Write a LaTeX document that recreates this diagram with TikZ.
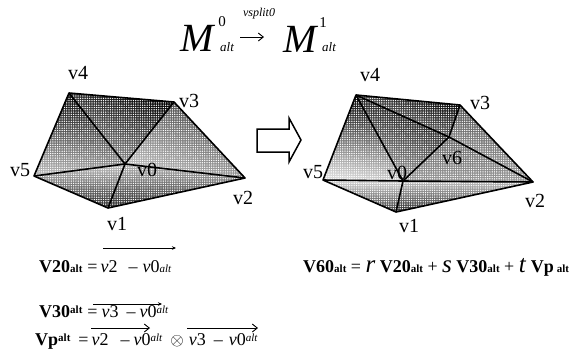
\documentclass[tikz,border=0pt]{standalone}
\usepackage{fontspec}
\setmainfont{Liberation Serif}
\usetikzlibrary{patterns,arrows.meta}
\pgfdeclarepatternformonly{halftone}{\pgfqpoint{-1pt}{-1pt}}{\pgfqpoint{1pt}{1pt}}{\pgfqpoint{2.3pt}{2.3pt}}{%
  \pgfpathcircle{\pgfqpoint{0pt}{0pt}}{0.72pt}\pgfusepath{fill}}
\newcommand{\bsub}[1]{{\fontsize{11}{11}\selectfont\textbf{#1}}}
\newcommand{\isub}[1]{{\fontsize{11}{11}\selectfont\textit{#1}}}
\newcommand{\muka}[4]{\shade[top color=black!#3,bottom color=black!#4,shading angle=#2] #1 -- cycle;
  \fill[pattern=halftone,pattern color=white] #1 -- cycle;}
\tikzset{
  meshedge/.style={line width=1.6pt,line join=round},
  vlabel/.style={font=\fontsize{20}{20}\selectfont,inner sep=0pt},
  eqn/.style={font=\fontsize{18}{18}\selectfont,inner sep=0pt,anchor=base west},
  vecbar/.style={-{Stealth[length=4pt,width=3.5pt]},line width=0.9pt},
  vecopen/.style={-{Straight Barb[length=5pt,width=8pt]},line width=0.9pt}
}

\begin{document}
\begin{tikzpicture}[x=1pt,y=-1pt]
  \useasboundingbox (0,0) rectangle (586,349);
  % left mesh
  \coordinate (v0) at (125,164);
  \coordinate (v1) at (108,208);
  \coordinate (v2) at (245,178);
  \coordinate (v3) at (174,102);
  \coordinate (v4) at (69,93);
  \coordinate (v5) at (34,176);
  % right mesh
  \coordinate (w0) at (403,181);
  \coordinate (w1) at (396,212);
  \coordinate (w2) at (533,182);
  \coordinate (w3) at (460,105);
  \coordinate (w4) at (356,95);
  \coordinate (w5) at (323,180);
  \coordinate (w6) at (449,137);

  \muka{(v4) -- (v3) -- (v0)}{-20}{100}{40}
  \muka{(v4) -- (v0) -- (v5)}{-10}{100}{30}
  \muka{(v3) -- (v2) -- (v0)}{-20}{75}{25}
  \muka{(v5) -- (v0) -- (v1)}{0}{25}{85}
  \muka{(v0) -- (v2) -- (v1)}{0}{30}{85}

  \muka{(w4) -- (w3) -- (w6)}{-20}{100}{40}
  \muka{(w4) -- (w6) -- (w0)}{-20}{100}{35}
  \muka{(w4) -- (w0) -- (w5)}{-10}{100}{15}
  \muka{(w3) -- (w2) -- (w6)}{-20}{75}{30}
  \muka{(w6) -- (w2) -- (w0)}{0}{60}{40}
  \muka{(w5) -- (w0) -- (w1)}{0}{15}{80}
  \muka{(w0) -- (w2) -- (w1)}{0}{25}{85}

  \draw[meshedge] (v4) -- (v3) -- (v2) -- (v1) -- (v5) -- cycle;
  \draw[meshedge] (v0) -- (v1);
  \draw[meshedge] (v0) -- (v2);
  \draw[meshedge] (v0) -- (v3);
  \draw[meshedge] (v0) -- (v4);
  \draw[meshedge] (v0) -- (v5);

  \draw[meshedge] (w4) -- (w3) -- (w2) -- (w1) -- (w5) -- cycle;
  \draw[meshedge] (w0) -- (w1);
  \draw[meshedge] (w0) -- (w2);
  \draw[meshedge] (w0) -- (w4);
  \draw[meshedge] (w0) -- (w5);
  \draw[meshedge] (w0) -- (w6);
  \draw[meshedge] (w6) -- (w2);
  \draw[meshedge] (w6) -- (w3);
  \draw[meshedge] (w6) -- (w4);

  \node[vlabel] (lv0) at (147,170) {v0};
  \node[vlabel] (lv1) at (117,224) {v1};
  \node[vlabel] (lv2) at (243,198) {v2};
  \node[vlabel] (lv3) at (189,101) {v3};
  \node[vlabel] (lv4) at (78,73) {v4};
  \node[vlabel] (lv5) at (20,170) {v5};

  \node[vlabel] (lw0) at (397,173) {v0};
  \node[vlabel] (lw1) at (409,226) {v1};
  \node[vlabel] (lw2) at (535,201) {v2};
  \node[vlabel] (lw3) at (480,103) {v3};
  \node[vlabel] (lw4) at (370,75) {v4};
  \node[vlabel] (lw5) at (313,172) {v5};
  \node[vlabel] (lw6) at (452,158) {v6};

  % hollow arrow
  \draw[line width=1.5pt,line join=miter] (257,129) -- (289,129) -- (289,118) -- (301,140)
    -- (289,162) -- (289,152) -- (257,152) -- cycle;

  % title
  \node[font=\fontsize{40}{40}\selectfont\itshape,inner sep=0pt] (m0) at (197,38) {M};
  \node[font=\fontsize{15}{15}\selectfont,inner sep=0pt] (m0up) at (222,22) {0};
  \node[font=\fontsize{13}{13}\selectfont\itshape,inner sep=0pt] (m0dn) at (227,47) {alt};
  \node[font=\fontsize{12}{12}\selectfont\itshape,inner sep=0pt] (vs) at (259,14) {vsplit0};
  \node[font=\fontsize{40}{40}\selectfont\itshape,inner sep=0pt] (m1) at (300,39) {M};
  \node[font=\fontsize{15}{15}\selectfont,inner sep=0pt] (m1up) at (323,23) {1};
  \node[font=\fontsize{13}{13}\selectfont\itshape,inner sep=0pt] (m1dn) at (329,47) {alt};
  \coordinate (ta) at (240,37);
  \coordinate (tb) at (264,37);
  \draw[vecopen] (ta) -- (tb);

  % formulas
  \node[eqn] (eqa) at (39,272) {\textbf{V20}\bsub{alt}\hspace{5pt}=\hspace{3pt}\textit{v}2\hspace{11pt}--\hspace{5pt}\textit{v}0\isub{alt}};
  \node[eqn] (eqb) at (39,317) {\textbf{V30}\raisebox{4pt}{\bsub{alt}}\hspace{5pt}=\hspace{4pt}\textit{v}3\hspace{8pt}--\hspace{4pt}\textit{v}0\raisebox{4pt}{\isub{alt}}};
  \node[eqn] (eqc) at (35,345) {\textbf{Vp}\raisebox{4pt}{\bsub{alt}}\hspace{8pt}=\hspace{3pt}\textit{v}2\hspace{12pt}--\hspace{4pt}\textit{v}0\raisebox{4pt}{\isub{alt}}\hspace{8pt}$\otimes$\hspace{5pt}\textit{v}3\hspace{8pt}--\hspace{6pt}\textit{v}0\raisebox{4pt}{\isub{alt}}};
  \node[eqn] (eqd) at (303,272) {\textbf{V60}\bsub{alt} = {\fontsize{25}{25}\selectfont\textit{r}} \textbf{V20}\bsub{alt} + {\fontsize{25}{25}\selectfont\textit{s}} \textbf{V30}\bsub{alt} + {\fontsize{25}{25}\selectfont\textit{t}} \textbf{Vp}\,\bsub{alt}};

  \coordinate (a1) at (103,248);  \coordinate (a2) at (176,248);
  \coordinate (b1) at (93,304);   \coordinate (b2) at (162,304);
  \coordinate (c1) at (91,328);   \coordinate (c2) at (150,328);
  \coordinate (d1) at (187,328);  \coordinate (d2) at (258,328);
  \draw[vecbar] (a1) -- (a2);
  \draw[vecbar] (b1) -- (b2);
  \draw[vecopen] (c1) -- (c2);
  \draw[vecopen] (d1) -- (d2);
\end{tikzpicture}
\end{document}
